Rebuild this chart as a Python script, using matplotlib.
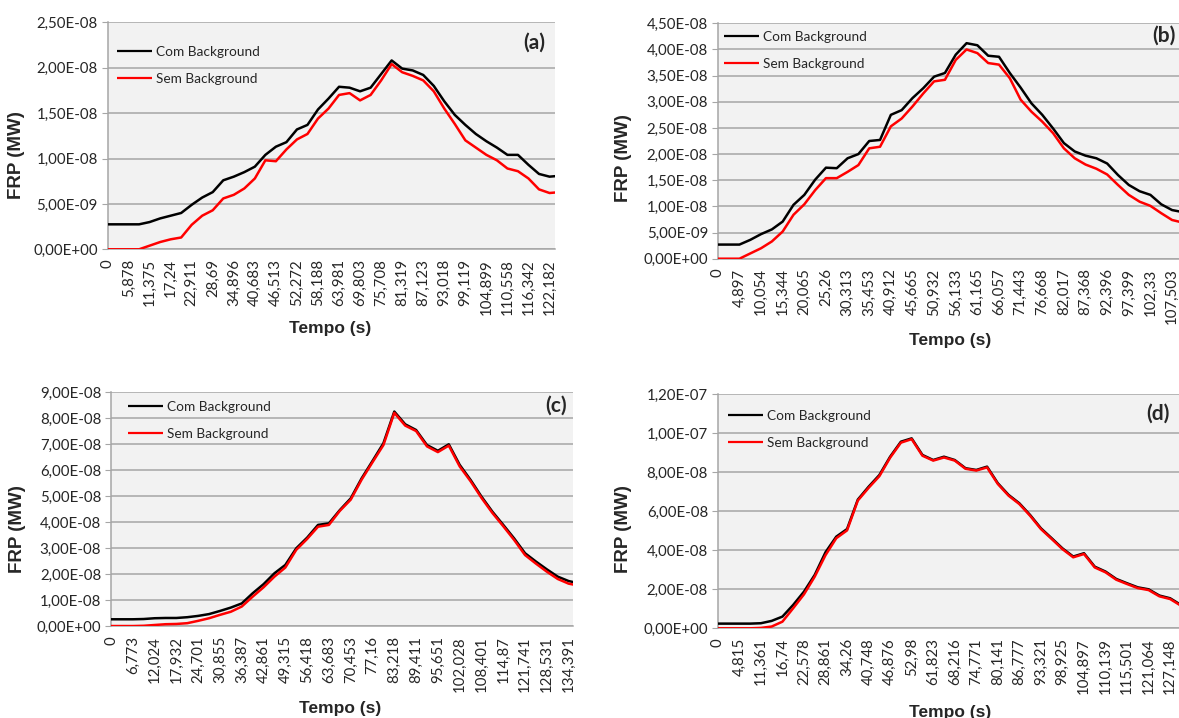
import numpy as np
import matplotlib
matplotlib.use("Agg")
import matplotlib.pyplot as plt
from matplotlib.ticker import FuncFormatter

# valores em unidades de 1e-8 MW, amostrados a cada meio rótulo do eixo de categorias
SCALE = 1e-8

tempo_a = ["0", "5,878", "11,375", "17,24", "22,911", "28,69", "34,896", "40,683",
           "46,513", "52,272", "58,188", "63,981", "69,803", "75,708", "81,319",
           "87,123", "93,018", "99,119", "104,899", "110,558", "116,342", "122,182"]
com_a = [0.275, 0.275, 0.275, 0.275, 0.30, 0.34, 0.37, 0.40, 0.49, 0.57, 0.63, 0.76,
         0.80, 0.85, 0.91, 1.04, 1.13, 1.18, 1.32, 1.37, 1.54, 1.66, 1.79, 1.78,
         1.74, 1.78, 1.93, 2.08, 1.99, 1.97, 1.92, 1.80, 1.63, 1.48, 1.37, 1.27,
         1.19, 1.12, 1.04, 1.04, 0.93, 0.83, 0.80, 0.81]
sem_a = [0.0, 0.0, 0.0, 0.0, 0.04, 0.08, 0.11, 0.13, 0.27, 0.37, 0.43, 0.56,
         0.60, 0.67, 0.78, 0.98, 0.97, 1.10, 1.21, 1.27, 1.44, 1.55, 1.70, 1.72,
         1.64, 1.70, 1.86, 2.04, 1.95, 1.91, 1.86, 1.74, 1.55, 1.38, 1.20, 1.12,
         1.04, 0.98, 0.89, 0.86, 0.78, 0.66, 0.62, 0.63]

tempo_b = ["0", "4,897", "10,054", "15,344", "20,065", "25,26", "30,313", "35,453",
           "40,912", "45,665", "50,932", "56,133", "61,165", "66,057", "71,443",
           "76,668", "82,017", "87,368", "92,396", "97,399", "102,33", "107,503"]
com_b = [0.27, 0.27, 0.27, 0.36, 0.47, 0.56, 0.71, 1.03, 1.22, 1.51, 1.74, 1.73,
         1.92, 2.00, 2.25, 2.27, 2.75, 2.84, 3.07, 3.26, 3.48, 3.55, 3.90, 4.12,
         4.08, 3.88, 3.86, 3.55, 3.27, 2.97, 2.75, 2.49, 2.21, 2.05, 1.97, 1.92,
         1.82, 1.60, 1.41, 1.29, 1.22, 1.04, 0.93, 0.89]
sem_b = [0.0, 0.0, 0.0, 0.10, 0.20, 0.33, 0.52, 0.84, 1.04, 1.31, 1.54, 1.54,
         1.66, 1.79, 2.11, 2.14, 2.53, 2.68, 2.91, 3.16, 3.39, 3.42, 3.80, 4.00,
         3.93, 3.74, 3.71, 3.45, 3.04, 2.81, 2.62, 2.40, 2.11, 1.92, 1.80, 1.72,
         1.61, 1.41, 1.22, 1.09, 1.01, 0.87, 0.74, 0.69]

tempo_c = ["0", "6,773", "12,024", "17,932", "24,701", "30,855", "36,387", "42,861",
           "49,315", "56,418", "63,683", "70,453", "77,16", "83,218", "89,411",
           "95,651", "102,028", "108,401", "114,87", "121,741", "128,531", "134,391"]
com_c = [0.27, 0.27, 0.27, 0.28, 0.31, 0.32, 0.32, 0.35, 0.40, 0.47, 0.59, 0.72,
         0.88, 1.27, 1.62, 2.04, 2.36, 3.00, 3.41, 3.90, 3.96, 4.47, 4.92, 5.69,
         6.36, 7.04, 8.26, 7.77, 7.55, 6.97, 6.75, 7.00, 6.21, 5.63, 4.99, 4.41,
         3.90, 3.38, 2.81, 2.49, 2.19, 1.91, 1.74, 1.65]
sem_c = [0.01, 0.01, 0.01, 0.02, 0.05, 0.08, 0.09, 0.12, 0.21, 0.31, 0.44, 0.56,
         0.76, 1.14, 1.50, 1.91, 2.26, 2.94, 3.36, 3.83, 3.90, 4.44, 4.87, 5.64,
         6.31, 6.97, 8.21, 7.72, 7.51, 6.92, 6.70, 6.95, 6.15, 5.58, 4.94, 4.36,
         3.85, 3.32, 2.74, 2.41, 2.10, 1.82, 1.64, 1.56]

tempo_d = ["0", "4,815", "11,361", "16,74", "22,578", "28,861", "34,26", "40,748",
           "46,876", "52,98", "61,823", "68,216", "74,771", "80,141", "86,777",
           "93,321", "98,925", "104,897", "110,139", "115,501", "121,064", "127,148"]
com_d = [0.24, 0.24, 0.24, 0.24, 0.26, 0.38, 0.60, 1.20, 1.88, 2.74, 3.90, 4.70,
         5.09, 6.60, 7.26, 7.86, 8.80, 9.57, 9.74, 8.89, 8.63, 8.80, 8.63, 8.21,
         8.12, 8.29, 7.44, 6.84, 6.41, 5.81, 5.13, 4.62, 4.10, 3.68, 3.85, 3.16,
         2.91, 2.53, 2.31, 2.10, 2.00, 1.68, 1.54, 1.20]
sem_d = [0.0, 0.0, 0.0, 0.0, 0.02, 0.09, 0.34, 1.03, 1.74, 2.65, 3.75, 4.62,
         5.02, 6.55, 7.20, 7.80, 8.75, 9.52, 9.70, 8.85, 8.60, 8.76, 8.60, 8.18,
         8.09, 8.25, 7.40, 6.80, 6.37, 5.77, 5.09, 4.58, 4.06, 3.64, 3.81, 3.12,
         2.87, 2.49, 2.27, 2.06, 1.96, 1.64, 1.50, 1.16]

W, H = 1179, 718
TICK_FONT = ["Lato", "DejaVu Sans"]
BOLD_FONT = ["Liberation Sans", "DejaVu Sans"]
TEXT_COLOR = "#262626"

# (left, right, top, bottom) em pixels, ymax, passo, x final em unidades de rótulo
panels = [
    dict(tag="(a)", tempo=tempo_a, com=com_a, sem=sem_a, box=(107.5, 555, 22.3, 249.3),
         ymax=2.5, step=0.5, xmax=21.26, ylab=(17, 155), xlab=(330, 328),
         tagpos=(545, 43), leg=(117, 46)),
    dict(tag="(b)", tempo=tempo_b, com=com_b, sem=sem_b, box=(717.8, 1182, 23.3, 258.7),
         ymax=4.5, step=0.5, xmax=21.46, ylab=(624, 158), xlab=(950, 341),
         tagpos=(1176, 36), leg=(724, 31)),
    dict(tag="(c)", tempo=tempo_c, com=com_c, sem=sem_c, box=(111, 573, 392.3, 626.3),
         ymax=9.0, step=1.0, xmax=21.2, ylab=(18, 529), xlab=(340, 708),
         tagpos=(567, 406), leg=(128, 401)),
    dict(tag="(d)", tempo=tempo_d, com=com_d, sem=sem_d, box=(717.8, 1182, 394.3, 628.3),
         ymax=12.0, step=2.0, xmax=21.55, ylab=(624, 529), xlab=(950, 712),
         tagpos=(1170, 414), leg=(728, 410)),
]


def fmt_sci(v, pos=None):
    return f"{v * SCALE:.2E}".replace(".", ",")


fig = plt.figure(figsize=(W / 100, H / 100), dpi=100)

for p in panels:
    left, right, top, bottom = p["box"]
    ax = fig.add_axes([left / W, 1 - bottom / H, (right - left) / W, (bottom - top) / H])
    ax.set_facecolor("#F2F2F2")

    x = np.arange(len(p["com"])) * 0.5
    ax.plot(x, p["com"], color="black", lw=1.8, label="Com Background", zorder=3)
    ax.plot(x, p["sem"], color="#FF0000", lw=1.8, label="Sem Background", zorder=4)

    ax.set_xlim(0, p["xmax"])
    ax.set_ylim(0, p["ymax"])
    ax.set_yticks(np.arange(0, p["ymax"] + p["step"] / 2, p["step"]))
    ax.yaxis.set_major_formatter(FuncFormatter(fmt_sci))
    ax.set_xticks(np.arange(len(p["tempo"])))
    ax.set_xticklabels(p["tempo"], rotation=90)

    ax.grid(axis="y", color="#A6A6A6", lw=1.1, zorder=1)
    ax.set_axisbelow(True)
    for s in ["top", "right"]:
        ax.spines[s].set_visible(False)
    for s in ["left", "bottom"]:
        ax.spines[s].set_color("#A6A6A6")
        ax.spines[s].set_linewidth(1.1)
    ax.tick_params(axis="y", length=4, color="#A6A6A6", pad=3, labelsize=10.8)
    ax.tick_params(axis="x", length=0, pad=7, labelsize=10.8)
    for t in ax.get_xticklabels() + ax.get_yticklabels():
        t.set_family(TICK_FONT)
        t.set_color(TEXT_COLOR)

    lx, ly = p["leg"]
    leg = ax.legend(loc="upper left", bbox_to_anchor=(lx / W, 1 - ly / H),
                    bbox_transform=fig.transFigure, frameon=False,
                    borderpad=0, borderaxespad=0,
                    handlelength=2.6, handletextpad=0.25, labelspacing=1.12,
                    prop={"family": TICK_FONT, "size": 9.8})
    for line in leg.get_lines():
        line.set_linewidth(1.6)
        line.set_solid_capstyle("butt")
    for t in leg.get_texts():
        t.set_color(TEXT_COLOR)

    tx, ty = p["tagpos"]
    fig.text(tx / W, 1 - ty / H, p["tag"], ha="right", va="center",
             fontsize=15, fontweight="bold", family=TICK_FONT, color=TEXT_COLOR)
    yx, yy = p["ylab"]
    fig.text(yx / W, 1 - yy / H, "FRP (MW)", rotation=90, ha="center", va="center",
             fontsize=13.5, fontweight="bold", family=BOLD_FONT, color=TEXT_COLOR)
    xx, xy = p["xlab"]
    fig.text(xx / W, 1 - xy / H, "Tempo (s)", ha="center", va="center",
             fontsize=12.5, fontweight="bold", family=BOLD_FONT, color=TEXT_COLOR)

fig.savefig("out.png", dpi=100, facecolor="white")
